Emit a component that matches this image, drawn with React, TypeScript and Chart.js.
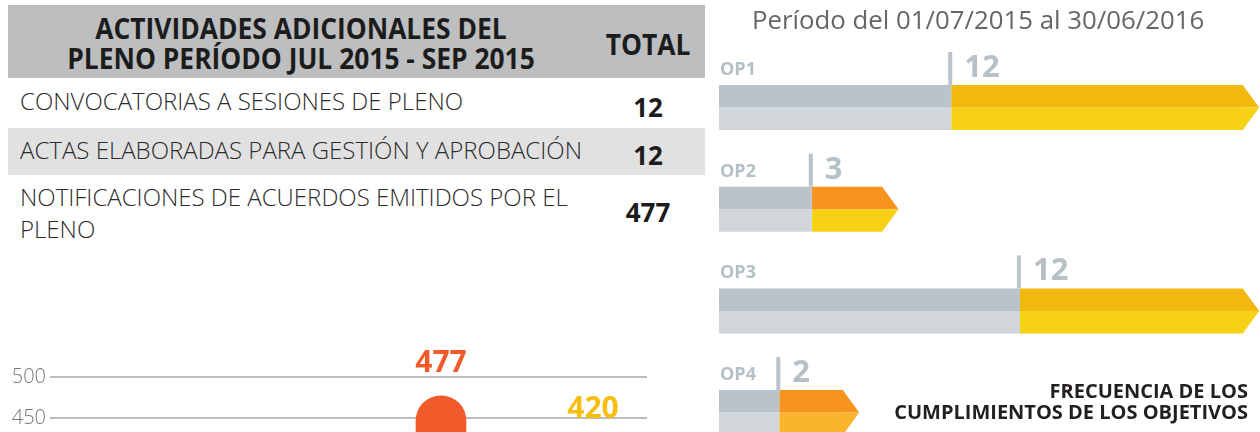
import React, { useEffect, useRef } from "react";
import { Chart, registerables } from "chart.js";

Chart.register(...registerables);

// ---------- Table data ----------
const tableHeader = ["ACTIVIDADES ADICIONALES DEL", "PLENO PERÍODO JUL 2015 - SEP 2015"];
const totalHeader = "TOTAL";
const activityLabels = [
  ["CONVOCATORIAS A SESIONES DE PLENO"],
  ["ACTAS ELABORADAS PARA GESTIÓN Y APROBACIÓN"],
  ["NOTIFICACIONES DE ACUERDOS EMITIDOS POR EL", "PLENO"],
];
const activityTotals = [12, 12, 477];

// ---------- Bottom-left column chart ----------
const barLabels = ["JUL 2015 - SEP 2015", "REFERENCIA"];
const barValues = [477, 420];
const barColors = ["#F15A2B", "#F6BE12"];
const yMin = 0;
const yMax = 500;
const yStep = 50;

// ---------- Right objectives chart ----------
const periodTitle = "Período del 01/07/2015 al 30/06/2016";
const objectives = ["OP1", "OP2", "OP3", "OP4"];
const cumplimientos = [12, 3, 12, 2];
const baseSegment = [44.3, 17.7, 57.4, 11.5];
const progressSegment = [55.7, 13.5, 42.6, 12.2];
const progressTopColors = ["#F1B80F", "#F7941E", "#F1B80F", "#F7941E"];
const progressBottomColors = ["#F6D116", "#F6D116", "#F6D116", "#FBB52C"];
const footerTitle = ["FRECUENCIA DE LOS", "CUMPLIMIENTOS DE LOS OBJETIVOS"];

const FONT = '"Open Sans", "DejaVu Sans", sans-serif';

function ColumnChart() {
  const ref = useRef<HTMLCanvasElement | null>(null);
  useEffect(() => {
    if (!ref.current) return;
    const labelPlugin = {
      id: "colLabels",
      afterDatasetsDraw(chart: any) {
        const ctx = chart.ctx;
        const meta = chart.getDatasetMeta(0);
        ctx.save();
        ctx.font = `700 30px ${FONT}`;
        ctx.textAlign = "center";
        ctx.textBaseline = "alphabetic";
        meta.data.forEach((el: any, i: number) => {
          ctx.fillStyle = barColors[i];
          ctx.fillText(String(barValues[i]), el.x, el.y - 35 + 0.357 * 30);
        });
        ctx.restore();
      },
    };
    const chart = new Chart(ref.current, {
      type: "bar",
      data: {
        labels: barLabels,
        datasets: [
          {
            label: "Notificaciones",
            data: barValues.map((v, i) => ({ x: i, y: v })) as any,
            backgroundColor: barColors,
            borderWidth: 0,
            borderRadius: { topLeft: 25, topRight: 25, bottomLeft: 0, bottomRight: 0 },
            borderSkipped: "start",
            barThickness: 50,
          },
        ],
      },
      options: {
        animation: false,
        responsive: false,
        layout: { padding: { top: 47, bottom: 15, left: 0, right: 53 } },
        plugins: { legend: { display: false }, tooltip: { enabled: false } },
        scales: {
          x: { type: "linear", display: false, offset: false, min: -2.572, max: 1.355 },
          y: {
            min: yMin,
            max: yMax,
            ticks: {
              stepSize: yStep,
              color: "#7a7a7a",
              padding: 4,
              font: { family: FONT, size: 20, weight: 300 as any },
            },
            grid: { color: "#BDBDBD", lineWidth: 2, drawTicks: false },
            border: { display: false },
            afterFit(scale: any) {
              scale.width = 50;
            },
          },
        },
      },
      plugins: [labelPlugin],
    });
    return () => chart.destroy();
  }, []);
  return (
    <canvas
      ref={ref}
      width={700}
      height={472}
      style={{ position: "absolute", left: 0, top: 330, width: 700, height: 472 }}
    />
  );
}

function ObjectivesChart() {
  const ref = useRef<HTMLCanvasElement | null>(null);
  useEffect(() => {
    if (!ref.current) return;
    const decoPlugin = {
      id: "objDeco",
      afterDatasetsDraw(chart: any) {
        const ctx = chart.ctx;
        const base = chart.getDatasetMeta(0).data;
        const top = chart.getDatasetMeta(1).data;
        const bot = chart.getDatasetMeta(3).data;
        const tip = 16;
        ctx.save();
        objectives.forEach((name, i) => {
          const t: any = top[i];
          const b: any = bot[i];
          const g: any = base[i];
          const tTop = t.y - t.height / 2;
          const mid = t.y + t.height / 2;
          const bBot = b.y + b.height / 2;
          // arrow tips
          ctx.fillStyle = progressTopColors[i];
          ctx.beginPath();
          ctx.moveTo(t.x - 0.5, tTop);
          ctx.lineTo(t.x + tip, mid);
          ctx.lineTo(t.x - 0.5, mid);
          ctx.closePath();
          ctx.fill();
          ctx.fillStyle = progressBottomColors[i];
          ctx.beginPath();
          ctx.moveTo(b.x - 0.5, mid);
          ctx.lineTo(b.x + tip, mid);
          ctx.lineTo(b.x - 0.5, bBot);
          ctx.closePath();
          ctx.fill();
          // marker line
          ctx.fillStyle = "#B9C3C9";
          ctx.fillRect(g.x - 3, tTop - 33, 4, 33);
          // value label
          ctx.font = `700 31px ${FONT}`;
          ctx.fillStyle = "#B5C0C7";
          ctx.textAlign = "left";
          ctx.textBaseline = "alphabetic";
          ctx.fillText(String(cumplimientos[i]), g.x + 13, tTop - 19 + 0.357 * 31);
          // OP label
          ctx.font = `700 18px ${FONT}`;
          ctx.fillStyle = "#B4BFC6";
          ctx.fillText(name, chart.chartArea.left + 1, tTop - 16.5 + 0.357 * 18);
        });
        ctx.restore();
      },
    };
    const chart = new Chart(ref.current, {
      type: "bar",
      data: {
        labels: objectives,
        datasets: [
          { label: "base", data: baseSegment, stack: "top", backgroundColor: "#B9C3C9" },
          { label: "cumplimiento", data: progressSegment, stack: "top", backgroundColor: progressTopColors },
          { label: "base-b", data: baseSegment, stack: "bottom", backgroundColor: "#D1D6DA" },
          { label: "cumplimiento-b", data: progressSegment, stack: "bottom", backgroundColor: progressBottomColors },
        ],
      },
      options: {
        indexAxis: "y",
        animation: false,
        responsive: false,
        layout: { padding: { top: 56.65, bottom: 6.55, left: 0, right: 0 } },
        datasets: { bar: { categoryPercentage: 0.4425, barPercentage: 1, borderWidth: 0 } },
        plugins: { legend: { display: false }, tooltip: { enabled: false } },
        scales: {
          x: { display: false, stacked: true, min: 0, max: 103.2 },
          y: { display: false },
        },
      } as any,
      plugins: [decoPlugin],
    });
    return () => chart.destroy();
  }, []);
  return (
    <canvas
      ref={ref}
      width={541}
      height={470}
      style={{ position: "absolute", left: 719, top: 0, width: 541, height: 470 }}
    />
  );
}

export default function App() {
  const condensed: React.CSSProperties = {
    fontFamily: FONT,
    fontWeight: 700,
    fontSize: 29,
    lineHeight: "30px",
    color: "#1c1c1c",
    transform: "scaleX(0.91)",
    transformOrigin: "center",
    whiteSpace: "nowrap",
  };
  const rowText: React.CSSProperties = {
    position: "absolute",
    left: 20,
    fontFamily: FONT,
    fontWeight: 300,
    fontSize: 24,
    color: "#2b2b2b",
    whiteSpace: "nowrap",
  };
  const valueText: React.CSSProperties = {
    position: "absolute",
    left: 598,
    width: 100,
    textAlign: "center",
    fontFamily: FONT,
    fontWeight: 700,
    fontSize: 26,
    lineHeight: "30px",
    color: "#1c1c1c",
  };
  const rowTops = [86, 135, 181];
  const rowLineHeights = [30, 30, 32];
  const valueCenters = [107, 155, 212];
  return (
    <div
      style={{
        position: "absolute",
        left: 0,
        top: 0,
        width: 1260,
        height: 432,
        overflow: "hidden",
        background: "#ffffff",
      }}
    >
      {/* table backgrounds */}
      <div style={{ position: "absolute", left: 8, top: 5, width: 697, height: 73, background: "#BDBEC0" }} />
      <div style={{ position: "absolute", left: 8, top: 128, width: 697, height: 47, background: "#E1E1E2" }} />
      {/* header */}
      <div style={{ position: "absolute", left: 0, top: 13, width: 602, textAlign: "center" }}>
        {tableHeader.map((l) => (
          <div key={l} style={condensed}>
            {l}
          </div>
        ))}
      </div>
      <div style={{ position: "absolute", left: 598, top: 29, width: 100, textAlign: "center" }}>
        <div style={condensed}>{totalHeader}</div>
      </div>
      {/* rows */}
      {activityLabels.map((lines, i) => (
        <div key={i} style={{ ...rowText, top: rowTops[i], lineHeight: rowLineHeights[i] + "px" }}>
          {lines.map((l) => (
            <div key={l}>{l}</div>
          ))}
        </div>
      ))}
      {activityTotals.map((v, i) => (
        <div key={i} style={{ ...valueText, top: valueCenters[i] - 15 }}>
          {v}
        </div>
      ))}

      <ColumnChart />
      <ObjectivesChart />

      {/* right titles */}
      <div
        style={{
          position: "absolute",
          left: 752,
          top: 4,
          fontFamily: FONT,
          fontWeight: 400,
          fontSize: 25.8,
          lineHeight: "30px",
          color: "#666666",
          whiteSpace: "nowrap",
        }}
      >
        {periodTitle}
      </div>
      <div
        style={{
          position: "absolute",
          right: 12,
          top: 380,
          textAlign: "right",
          fontFamily: FONT,
          fontWeight: 700,
          fontSize: 20,
          lineHeight: "21px",
          color: "#231F20",
          whiteSpace: "nowrap",
        }}
      >
        {footerTitle.map((l) => (
          <div key={l}>{l}</div>
        ))}
      </div>
    </div>
  );
}
